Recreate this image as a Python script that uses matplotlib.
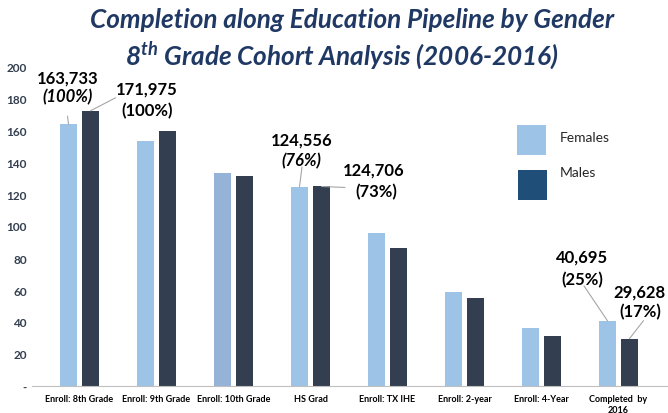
import matplotlib
matplotlib.use("Agg")
import matplotlib.pyplot as plt
from matplotlib.patches import Rectangle
import numpy as np

plt.rcParams['font.family'] = ['Lato', 'DejaVu Sans']

categories = ["Enroll: 8th Grade", "Enroll: 9th Grade", "Enroll: 10th Grade", "HS Grad",
              "Enroll: TX IHE", "Enroll: 2-year", "Enroll: 4-Year", "Completed  by\n2016"]
females = [163.7, 153.3, 133.0, 124.6, 95.4, 59.0, 36.2, 40.7]
males = [172.0, 159.4, 131.0, 124.7, 86.0, 54.8, 31.0, 29.6]
yticks = [0, 20, 40, 60, 80, 100, 120, 140, 160, 180, 200]
ytick_labels = ["-", "20", "40", "60", "80", "100", "120", "140", "160", "180", "200"]

title1 = "Completion along Education Pipeline by Gender"
title2 = r"8$^{\mathregular{th}}$ Grade Cohort Analysis (2006-2016)"

fcol = "#9DC3E6"
fcol_alt = "#95B3D7"
mcol = "#333F50"
leg_mcol = "#1F4E79"
navy = "#1F3864"

fig = plt.figure(figsize=(6.68, 4.14), dpi=100)
ax = fig.add_axes([32/668, 27/414, 1 - 32/668, 320/414])

x = np.arange(len(categories))
off = 11/77
w = 17/77
fcolors = [fcol] * len(categories)
fcolors[2] = fcol_alt
ax.bar(x - off, females, w, color=fcolors)
ax.bar(x + off, males, w, color=mcol)

ax.set_xlim(-0.617, 7 + (668 - 618.5)/77)
ax.set_ylim(0, 200)
ax.set_yticks(yticks)
ax.set_yticklabels(ytick_labels, fontsize=8.5, fontweight='bold', color='#333F50')
ax.set_xticks(x)
ax.set_xticklabels(categories, fontsize=6.5, fontweight='bold', color='black')
ax.tick_params(axis='both', length=0)
ax.tick_params(axis='x', pad=6)
ax.tick_params(axis='y', pad=3.6)
for s in ['top', 'right', 'left']:
    ax.spines[s].set_visible(False)
ax.spines['bottom'].set_color('#BFBFBF')
ax.spines['bottom'].set_linewidth(0.8)

# Annotations
def label(xd, val, num, pct, pct_italic, ndx, ndy, pdx, pdy, lines):
    ax.annotate(num, xy=(xd, val), xytext=(ndx, ndy), textcoords='offset pixels',
                ha='center', va='center', fontsize=12, fontweight='bold', color='black',
                annotation_clip=False)
    ax.annotate(pct, xy=(xd, val), xytext=(pdx, pdy), textcoords='offset pixels',
                ha='center', va='center', fontsize=12, fontweight='bold',
                fontstyle='italic' if pct_italic else 'normal', color='black',
                annotation_clip=False)
    (x0, y0), (x1, y1) = lines
    ax.annotate('', xy=(xd, val), xytext=(x1, y1), textcoords='offset pixels',
                arrowprops=dict(arrowstyle='-', color='#A6A6A6', lw=0.8,
                                shrinkA=0, shrinkB=0),
                annotation_clip=False)

label(x[0] - off, females[0], "163,733", "(100%)", True, -1, 47, -1, 28, ((0, 0), (-1, 8)))
label(x[0] + off, males[0], "171,975", "(100%)", False, 56.5, 22, 56.5, 1, ((0, 0), (25, 13)))
label(x[3] - off, females[3], "124,556", "(76%)", True, 2, 47.6, 2, 26.6, ((0, 0), (2.5, 19.6)))
label(x[3] + off, males[3], "124,706", "(73%)", False, 52.5, 16.5, 54.5, -4.5, ((0, 0), (23.5, -1)))
label(x[7] - off, females[7], "40,695", "(25%)", False, -25, 64, -25, 42, ((0, 0), (-23.5, 35)))
label(x[7] + off, males[7], "29,628", "(17%)", False, 10, 47.6, 11, 27.6, ((0, 0), (14, 18)))

# Titles
fig.text(352/668, 1 - 20/414, title1, ha='center', va='center', fontsize=18.8,
         fontweight='bold', fontstyle='italic', color=navy)
fig.text(342/668, 1 - 55/414, title2, ha='center', va='center', fontsize=18.8,
         fontweight='bold', fontstyle='italic', color=navy)

# Legend
fig.patches.append(Rectangle((517/668, 1 - 156/414), 29/668, 30/414, transform=fig.transFigure,
                             facecolor=fcol, edgecolor='none'))
fig.patches.append(Rectangle((518/668, 1 - 201/414), 29/668, 30/414, transform=fig.transFigure,
                             facecolor=leg_mcol, edgecolor='none'))
fig.text(560/668, 1 - 138/414, "Females", ha='left', va='center', fontsize=10, color='#262626')
fig.text(560/668, 1 - 173/414, "Males", ha='left', va='center', fontsize=10, color='#262626')

fig.savefig("out.png", dpi=100)
